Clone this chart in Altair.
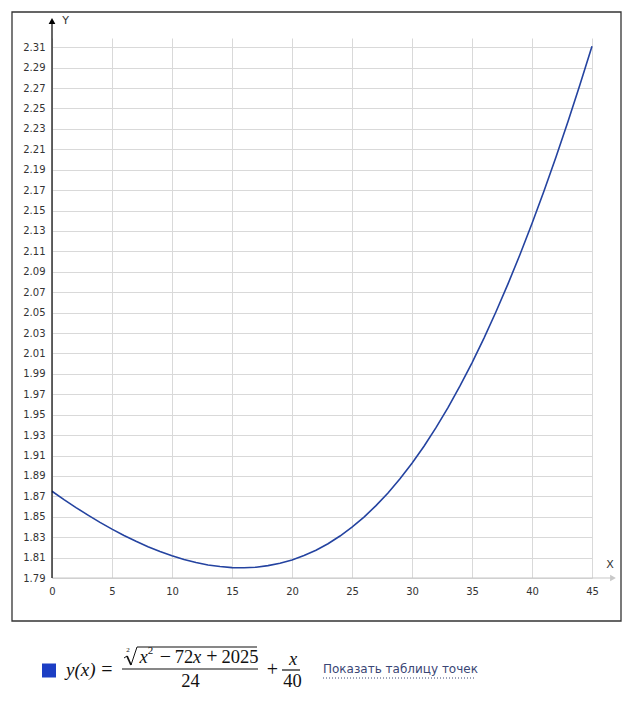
import altair as alt
import pandas as pd

# values
x_vals = list(range(46))
y_vals = [1.8750, 1.8668, 1.8590, 1.8516, 1.8445, 1.8379, 1.8317, 1.8260, 1.8207, 1.8160,
          1.8118, 1.8082, 1.8052, 1.8028, 1.8012, 1.8002, 1.8000, 1.8006, 1.8021, 1.8044,
          1.8077, 1.8120, 1.8172, 1.8236, 1.8311, 1.8398, 1.8497, 1.8609, 1.8733, 1.8872,
          1.9024, 1.9191, 1.9373, 1.9569, 1.9781, 2.0008, 2.0250, 2.0508, 2.0781, 2.1069,
          2.1373, 2.1691, 2.2024, 2.2372, 2.2734, 2.3109]
x_ticks = [0, 5, 10, 15, 20, 25, 30, 35, 40, 45]
y_ticks = [1.79, 1.81, 1.83, 1.85, 1.87, 1.89, 1.91, 1.93, 1.95, 1.97, 1.99, 2.01, 2.03,
           2.05, 2.07, 2.09, 2.11, 2.13, 2.15, 2.17, 2.19, 2.21, 2.23, 2.25, 2.27, 2.29, 2.31]

df = pd.DataFrame({"x": x_vals, "y": y_vals})
one = pd.DataFrame({"a": [0]})

LABEL_FONT = "DejaVu Sans"
MATH_FONT = "Liberation Serif"
INK = "#111111"

line = alt.Chart(df).mark_line(color="#2443a0", strokeWidth=1.6, clip=False).encode(
    x=alt.X("x:Q", scale=alt.Scale(domain=[0, 45], nice=False, zero=False),
            axis=alt.Axis(values=x_ticks, grid=True, gridColor="#d9d9d9", gridWidth=1,
                          domain=False, ticks=False, labelPadding=8, labelFontSize=10,
                          labelColor="#333333", labelFont=LABEL_FONT, labelFlush=False,
                          labelOverlap=False, title=None, format="d")),
    y=alt.Y("y:Q", scale=alt.Scale(domain=[1.79, 2.319], nice=False, zero=False),
            axis=alt.Axis(values=y_ticks, grid=True, gridColor="#d9d9d9", gridWidth=1,
                          domain=False, ticks=False, labelPadding=7, labelFontSize=10,
                          labelColor="#333333", labelFont=LABEL_FONT, labelFlush=False,
                          labelOverlap=False, title=None, format=".2f")),
)

def rule(x1, x2, y1, y2, color="#333333", width=1.0, dash=None):
    kw = dict(color=color, strokeWidth=width)
    if dash:
        kw["strokeDash"] = dash
    return alt.Chart(one).mark_rule(**kw).encode(
        x=alt.value(x1), x2=alt.value(x2), y=alt.value(y1), y2=alt.value(y2))

def txt(s, x, y, size=11, font=LABEL_FONT, color="#333333", align="center",
        style="normal", weight="normal"):
    return alt.Chart(one).mark_text(text=s, fontSize=size, font=font, color=color,
                                    align=align, baseline="middle", fontStyle=style,
                                    fontWeight=weight).encode(
        x=alt.value(x), y=alt.value(y))

def m(s, x, y, size=18.5, style="normal"):
    return txt(s, x, y, size=size, font=MATH_FONT, color=INK, style=style)

border = alt.Chart(one).mark_rect(fill=None, stroke="#333333", strokeWidth=1.3).encode(
    x=alt.value(-40), x2=alt.value(569), y=alt.value(-26), y2=alt.value(583))

x_axis = rule(0, 561, 540, 540, color="#c8c8c8", width=1.2)
x_arrow = alt.Chart(one).mark_point(shape="triangle-right", filled=True, color="#c8c8c8",
                                    size=45, opacity=1).encode(x=alt.value(561), y=alt.value(540))
y_axis = rule(0, 0, 540, -16, color="#000000", width=1.2)
y_arrow = alt.Chart(one).mark_point(shape="triangle-up", filled=True, color="#000000",
                                    size=45, opacity=1).encode(x=alt.value(0), y=alt.value(-17))

y_lab = txt("Y", 13.5, -17, size=11)
x_lab = txt("X", 558, 527, size=11)

# legend / formula
square = alt.Chart(one).mark_square(color="#1c3ec4", size=196, opacity=1).encode(
    x=alt.value(-3), y=alt.value(632.5))
f_yx = txt("y(x)", 14, 632, size=19, font=MATH_FONT, color=INK, align="left", style="italic")
f_eq = m("=", 55, 632, size=20)

# radical sign
r_a = rule(72, 75, 620, 618, color=INK, width=1.0)
r_b = rule(75, 79, 618, 627, color=INK, width=1.8)
r_c = rule(79, 85, 627, 609, color=INK, width=1.0)
r_over = rule(85, 205, 609, 609, color=INK, width=1.2)
r_idx = txt("2", 76, 612, size=7, font=MATH_FONT, color=INK)

n_x1 = m("x", 91.5, 619, style="italic")
n_sq = m("2", 98.5, 613, size=11)
n_min = m("−", 113.5, 619, size=20)
n_72 = m("72", 132, 619)
n_x2 = m("x", 145, 619, style="italic")
n_pl = m("+", 160, 619, size=20)
n_2025 = m("2025", 188, 619)
f_bar1 = rule(70, 206, 631, 631, color=INK, width=1.2)
f_den = m("24", 138.5, 643)
f_plus = m("+", 220.5, 632, size=20)
f_x = m("x", 241, 621, style="italic")
f_bar2 = rule(230, 248, 632, 632, color=INK, width=1.2)
f_40 = m("40", 240.5, 643)

link = txt("Показать таблицу точек", 271, 631, size=12, font=LABEL_FONT,
           color="#3a4675", align="left")
link_ul = rule(271, 424, 640, 640, color="#3a4675", width=1.0, dash=[1, 2])

chart = alt.layer(
    line, border, x_axis, x_arrow, y_axis, y_arrow, y_lab, x_lab,
    square, f_yx, f_eq, r_a, r_b, r_c, r_over, r_idx,
    n_x1, n_sq, n_min, n_72, n_x2, n_pl, n_2025, f_bar1, f_den, f_plus, f_x, f_bar2, f_40,
    link, link_ul,
).properties(
    width=540, height=540,
    padding={"left": 44, "top": 30, "right": 35, "bottom": 112},
    autosize=alt.AutoSizeParams(type="none"),
).configure_view(stroke=None)

chart.save("out.html", embed_options={"renderer": "svg", "actions": False})
